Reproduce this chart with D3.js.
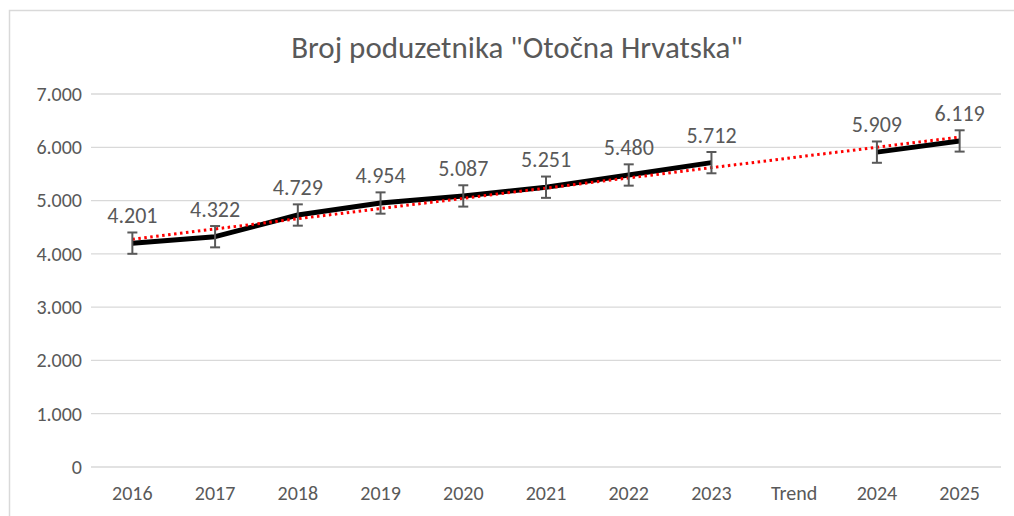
<!DOCTYPE html>
<html>
<head>
<meta charset="utf-8">
<script src="https://cdn.jsdelivr.net/npm/d3@7"></script>
<style>
  body { margin: 0; background: #fff; }
  text { font-family: Carlito, Calibri, "Liberation Sans Narrow", "Open Sans", sans-serif; fill: #595959; }
</style>
</head>
<body>
<div id="chart"></div>
<script>
// Data
const categories = ["2016", "2017", "2018", "2019", "2020", "2021", "2022", "2023", "Trend", "2024", "2025"];
const values = [4201, 4322, 4729, 4954, 5087, 5251, 5480, 5712, null, 5909, 6119];
const errorAmount = 200;
const yTicks = [0, 1000, 2000, 3000, 4000, 5000, 6000, 7000];

const W = 1014, H = 516;
const plot = { left: 91, right: 1001, top: 94, bottom: 467 };

const svg = d3.select("#chart")
    .append("svg")
    .attr("width", W)
    .attr("height", H);

// Chart border (cropped at right and bottom)
svg.append("path")
    .attr("d", `M9.5,${H} V10.5 H${W}`)
    .attr("fill", "none")
    .attr("stroke", "#d9d9d9")
    .attr("stroke-width", 1.5);

const x = d3.scaleBand()
    .domain(categories)
    .range([plot.left, plot.right]);

const y = d3.scaleLinear()
    .domain([0, 7000])
    .range([plot.bottom, plot.top]);

const fmt = v => d3.format(",")(v).replace(/,/g, ".");
const cx = c => x(c) + x.bandwidth() / 2;

// Gridlines
svg.append("g")
    .selectAll("line")
    .data(yTicks)
    .join("line")
    .attr("x1", plot.left)
    .attr("x2", plot.right)
    .attr("y1", d => y(d))
    .attr("y2", d => y(d))
    .attr("stroke", "#d9d9d9")
    .attr("stroke-width", 1.3);

// Y axis labels
const yAxis = svg.append("g")
    .attr("transform", `translate(${plot.left - 9},0)`)
    .call(d3.axisLeft(y).tickValues(yTicks).tickFormat(fmt).tickSize(0).tickPadding(0));
yAxis.select(".domain").remove();
yAxis.attr("font-size", null).attr("font-family", null);
yAxis.selectAll("text")
    .style("font-size", "20px")
    .attr("fill", "#595959");

// X axis labels
const xAxis = svg.append("g")
    .attr("transform", `translate(0,${plot.bottom + 19})`)
    .call(d3.axisBottom(x).tickSize(0).tickPadding(0));
xAxis.select(".domain").remove();
xAxis.attr("font-size", null).attr("font-family", null);
xAxis.selectAll("text")
    .style("font-size", "20px")
    .attr("fill", "#595959");

// Title
svg.append("text")
    .attr("x", 517)
    .attr("y", 58)
    .attr("text-anchor", "middle")
    .style("font-size", "31px")
    .text("Broj poduzetnika \"Otočna Hrvatska\"");

const points = categories.map((c, i) => ({ cat: c, i: i + 1, v: values[i] }))
    .filter(d => d.v !== null);

// Line (gap at Trend)
const line = d3.line()
    .defined(d => d.v !== null)
    .x(d => cx(d.cat))
    .y(d => y(d.v));

svg.append("path")
    .datum(categories.map((c, i) => ({ cat: c, v: values[i] })))
    .attr("d", line)
    .attr("fill", "none")
    .attr("stroke", "#000")
    .attr("stroke-width", 5)
    .attr("stroke-linejoin", "round");

// Linear trendline (least squares over category index)
const mx = d3.mean(points, d => d.i);
const my = d3.mean(points, d => d.v);
const slope = d3.sum(points, d => (d.i - mx) * (d.v - my)) / d3.sum(points, d => (d.i - mx) ** 2);
const intercept = my - slope * mx;
const first = points[0], last = points[points.length - 1];

svg.append("line")
    .attr("x1", cx(first.cat))
    .attr("y1", y(intercept + slope * first.i))
    .attr("x2", cx(last.cat))
    .attr("y2", y(intercept + slope * last.i))
    .attr("stroke", "#ff0000")
    .attr("stroke-width", 3)
    .attr("stroke-dasharray", "2.5 3.5");

// Error bars
const eb = svg.append("g")
    .attr("stroke", "#595959")
    .attr("stroke-width", 2)
    .selectAll("g")
    .data(points)
    .join("g");

eb.append("line")
    .attr("x1", d => cx(d.cat)).attr("x2", d => cx(d.cat))
    .attr("y1", d => y(d.v - errorAmount)).attr("y2", d => y(d.v + errorAmount));
eb.append("line")
    .attr("x1", d => cx(d.cat) - 5).attr("x2", d => cx(d.cat) + 5)
    .attr("y1", d => y(d.v + errorAmount)).attr("y2", d => y(d.v + errorAmount));
eb.append("line")
    .attr("x1", d => cx(d.cat) - 5).attr("x2", d => cx(d.cat) + 5)
    .attr("y1", d => y(d.v - errorAmount)).attr("y2", d => y(d.v - errorAmount));

// Data labels
svg.append("g")
    .selectAll("text")
    .data(points)
    .join("text")
    .attr("x", d => cx(d.cat))
    .attr("y", d => y(d.v) - 20)
    .attr("text-anchor", "middle")
    .style("font-size", "22px")
    .text(d => fmt(d.v));
</script>
</body>
</html>
